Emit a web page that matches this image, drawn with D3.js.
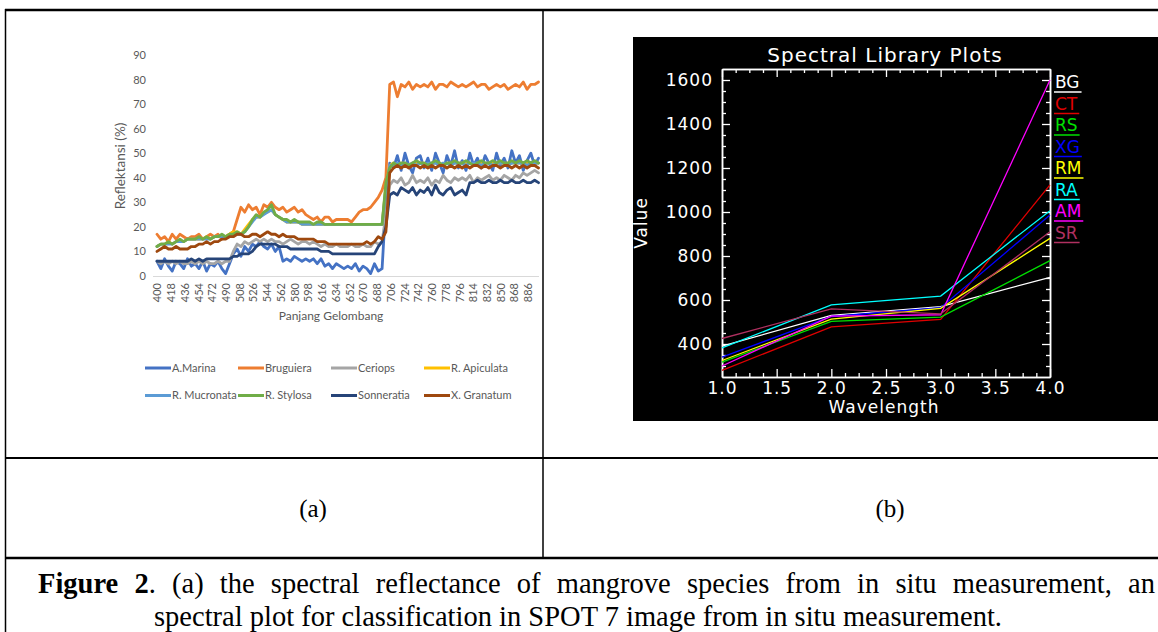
<!DOCTYPE html>
<html><head><meta charset="utf-8">
<script src="https://cdn.jsdelivr.net/npm/d3@7"></script>
<style>html,body{margin:0;padding:0;background:#fff;overflow:hidden}svg{display:block}</style>
</head><body>
<svg id="c" width="1158" height="632"></svg>
<script>
// ---------- Chart (a) data: reflectance (%) every 5 nm, 400..900 ----------
const waveStart = 400, waveEnd = 900, waveStep = 5;
const wavelengths = d3.range(waveStart, waveEnd + 1, waveStep);
const xTickLabelsA = [400,418,436,454,472,490,508,526,544,562,580,598,616,634,652,670,688,706,724,742,760,778,796,814,832,850,868,886];
const yTicksA = [0,10,20,30,40,50,60,70,80,90];

const aMarina = [6,3,7,4,2,6,5,3,7,4, 5,3,6,2,5,4,6,3,1,5, 9,11,8,12,10,13,12,14,12,11, 13,10,12,6,7,6,8,7,6,7,
 6,7,5,7,4,5,3,5,4,3, 4,3,5,2,4,3,1,5,2,3, 30,46,44,49,43,50,45,42,48,49, 44,48,43,50,46,42,49,45,51,44,
 47,43,50,45,48,44,49,46,43,50, 45,48,44,51,46,49,43,47,50,45, 48];
const bruguiera = [17,15,16,14,17,15,17,16,15,16, 16,17,15,16,17,16,17,15,16,17, 18,23,28,26,29,27,28,25,29,28, 30,28,27,28,26,27,28,26,27,25,
 24,23,24,22,24,24,22,23,23,23, 23,22,24,26,27,27,28,30,32,35, 40,78,79,73,78,77,79,76,78,77, 78,77,79,76,78,78,77,79,78,77,
 78,77,78,79,77,78,78,76,77,78, 77,78,76,77,78,77,79,76,78,78, 79];
const ceriops = [6,5,6,5,6,5,6,5,5,6, 5,6,5,6,5,5,6,5,6,6, 10,13,12,14,13,14,15,14,15,14, 15,14,14,13,14,15,14,13,14,14,
 13,14,13,12,13,12,12,13,12,12, 12,13,12,12,13,12,12,14,13,14, 25,37,39,38,40,37,38,41,38,39, 38,40,37,39,38,41,39,38,40,39,
 40,39,41,38,40,39,40,41,39,40, 39,41,40,39,41,40,42,41,42,43, 42];
const rApiculata = [12,13,13,14,13,14,14,14,15,15, 15,15,15,16,15,16,16,16,16,17, 18,18,17,19,21,23,24,24,26,26, 27,25,24,23,22,22,22,22,21,21,
 21,21,21,21,21,21,21,21,21,21, 21,21,21,21,21,21,21,21,21,21, 37,45,46,45,46,46,45,46,46,46, 46,45,46,46,46,45,46,46,46,46,
 46,46,46,45,46,46,46,46,46,46, 46,46,46,46,46,46,46,46,46,46, 46];
const rMucronata = [12,13,13,13,13,14,14,14,15,15, 15,15,15,15,15,16,16,16,16,16, 17,17,17,18,20,22,24,24,25,26, 27,25,24,23,22,22,22,22,21,21,
 21,21,21,21,21,21,21,21,21,21, 21,21,21,21,21,21,21,21,21,21, 36,45,45,46,45,46,45,46,45,46, 45,46,46,46,45,46,46,45,46,46,
 46,45,46,46,46,45,46,46,45,46, 46,46,45,46,46,46,46,45,46,46, 46];
const rStylosa = [12,13,13,14,13,14,15,14,15,15, 15,16,15,16,15,16,16,17,16,17, 17,18,17,18,20,23,25,24,26,27, 29,25,24,23,23,22,23,22,22,22,
 22,21,22,22,21,21,21,21,21,21, 21,21,21,21,21,21,21,21,21,21, 38,44,46,45,46,46,45,46,47,46, 46,45,46,47,46,45,46,46,47,46,
 46,47,46,45,46,47,46,46,47,46, 47,46,46,47,46,47,46,47,46,47, 46];
const sonneratia = [6,6,6,6,6,6,6,6,6,7, 6,7,6,7,7,7,7,7,7,7, 8,8,9,9,9,10,12,13,13,13, 13,13,12,12,12,11,11,11,11,11,
 11,11,11,10,10,10,9,9,9,9, 9,9,9,9,9,9,9,9,12,14, 20,33,34,33,36,35,34,36,33,35, 34,36,33,37,34,33,35,36,33,34,
 35,33,38,38,39,38,38,39,38,38, 39,38,38,39,38,38,39,38,38,39, 38];
const xGranatum = [10,11,12,11,11,12,11,11,11,12, 12,13,13,14,13,14,14,15,15,16, 16,17,17,16,16,17,17,16,17,18, 17,17,16,17,16,16,16,15,15,15,
 15,15,14,14,14,13,13,13,13,13, 13,13,13,13,13,14,13,14,16,15, 18,42,44,45,44,45,44,45,45,44, 45,44,45,44,45,45,44,45,44,45,
 44,45,44,45,45,44,45,44,45,45, 44,45,45,44,45,44,45,44,45,45, 44];

const seriesNamesA = ["A.Marina","Bruguiera","Ceriops","R. Apiculata","R. Mucronata","R. Stylosa","Sonneratia","X. Granatum"];
const seriesValuesA = [aMarina,bruguiera,ceriops,rApiculata,rMucronata,rStylosa,sonneratia,xGranatum];
const seriesColorsA = ["#4472C4","#ED7D31","#A5A5A5","#FFC000","#5B9BD5","#70AD47","#264478","#9E480E"];

// ---------- Chart (b) data ----------
const bandsB = [1,2,3,4];
const seriesNamesB = ["BG","CT","RS","XG","RM","RA","AM","SR"];
const bgVals = [390,530,570,703];
const ctVals = [280,478,512,1123];
const rsVals = [318,503,522,779];
const xgVals = [340,525,565,986];
const rmVals = [325,513,562,880];
const raVals = [382,578,618,1006];
const amVals = [300,527,533,1600];
const srVals = [425,560,537,910];
const seriesValuesB = [bgVals,ctVals,rsVals,xgVals,rmVals,raVals,amVals,srVals];
const seriesColorsB = ["#ffffff","#e00000","#00e000","#0000ff","#ffff00","#00ffff","#ff00ff","#b03060"];
const xTicksB = [1.0,1.5,2.0,2.5,3.0,3.5,4.0];
const yTicksB = [400,600,800,1000,1200,1400,1600];

const svg = d3.select("#c");

// ---------- Table frame ----------
const frame = svg.append("g").attr("stroke","#000");
frame.append("line").attr("x1",5).attr("x2",1158).attr("y1",10).attr("y2",10).attr("stroke-width",2.5);
frame.append("line").attr("x1",5.5).attr("x2",5.5).attr("y1",9).attr("y2",632).attr("stroke-width",1.5);
frame.append("line").attr("x1",543).attr("x2",543).attr("y1",9).attr("y2",558).attr("stroke-width",1.5);
frame.append("line").attr("x1",5).attr("x2",1158).attr("y1",458).attr("y2",458).attr("stroke-width",2);
frame.append("line").attr("x1",5).attr("x2",1158).attr("y1",558).attr("y2",558).attr("stroke-width",2.5);

const serif = "'Liberation Serif','Times New Roman',serif";
svg.append("text").attr("x",313).attr("y",517).attr("text-anchor","middle")
  .attr("font-family",serif).attr("font-size",25).text("(a)");
svg.append("text").attr("x",890).attr("y",517).attr("text-anchor","middle")
  .attr("font-family",serif).attr("font-size",25).text("(b)");

const capSize = 28.5;
const capRest = ". (a) the spectral reflectance of mangrove species from in situ measurement, an";
// justify line 1 like the reference (stretched word spacing), visible part up to the frame edge
const probe = svg.append("text").attr("font-family",serif).attr("font-size",capSize);
probe.append("tspan").attr("font-weight","bold").text("Figure 2");
probe.append("tspan").text(capRest);
const w0 = probe.node().getComputedTextLength();
probe.remove();
const nSpaces = ("Figure 2" + capRest).split(" ").length - 1;
const ws = Math.max(0, (1155 - 38 - w0) / nSpaces);
const cap1 = svg.append("text").attr("x",38).attr("y",593).attr("font-family",serif)
  .attr("font-size",capSize).attr("word-spacing",ws.toFixed(2));
cap1.append("tspan").attr("font-weight","bold").text("Figure 2");
cap1.append("tspan").text(capRest);
svg.append("text").attr("x",578).attr("y",626).attr("text-anchor","middle").attr("font-family",serif).attr("font-size",capSize)
  .text("spectral plot for classification in SPOT 7 image from in situ measurement.");

// ---------- Chart (a) ----------
const fontA = "Lato, 'Open Sans', sans-serif";
const gA = svg.append("g");
const xA = d3.scaleLinear().domain([waveStart, waveEnd]).range([157, 538.5]);
const yA = d3.scaleLinear().domain([0, 90]).range([276, 55]);

gA.append("line").attr("x1",153).attr("x2",539).attr("y1",yA(0)+0.5).attr("y2",yA(0)+0.5)
  .attr("stroke","#d9d9d9").attr("stroke-width",1);

const yAxisA = d3.axisLeft(yA).tickValues(yTicksA).tickSize(0).tickPadding(0);
gA.append("g").attr("transform","translate(146,0)").call(yAxisA)
  .call(g => g.select(".domain").remove())
  .call(g => g.selectAll("text").attr("fill","#595959").attr("font-family",fontA).attr("font-size",11));

const xAxisA = d3.axisBottom(xA).tickValues(xTickLabelsA).tickSize(0).tickPadding(0);
gA.append("g").attr("transform","translate(0,283)").call(xAxisA)
  .call(g => g.select(".domain").remove())
  .call(g => g.selectAll("text").attr("fill","#595959").attr("font-family",fontA).attr("font-size",11)
      .attr("transform","rotate(-90)").attr("text-anchor","end").attr("x",0).attr("y",0).attr("dy","0.35em"));

gA.append("text").attr("transform","translate(125,166) rotate(-90)").attr("text-anchor","middle")
  .attr("fill","#595959").attr("font-family",fontA).attr("font-size",13.5).text("Reflektansi (%)");
gA.append("text").attr("x",331).attr("y",320).attr("text-anchor","middle")
  .attr("fill","#595959").attr("font-family",fontA).attr("font-size",12).text("Panjang Gelombang");

const lineA = d3.line().x((d,i) => xA(wavelengths[i])).y(d => yA(d));
seriesValuesA.forEach((vals, k) => {
  gA.append("path").datum(vals).attr("d", lineA).attr("fill","none")
    .attr("stroke", seriesColorsA[k]).attr("stroke-width",2.8)
    .attr("stroke-linejoin","round").attr("stroke-linecap","round");
});

// legend (a)
const legA = gA.append("g");
seriesNamesA.forEach((name, k) => {
  const col = k % 4, row = Math.floor(k / 4);
  const lx = 145 + col * 93, ly = 368 + row * 27.5;
  legA.append("line").attr("x1",lx).attr("x2",lx+26).attr("y1",ly).attr("y2",ly)
    .attr("stroke",seriesColorsA[k]).attr("stroke-width",3);
  legA.append("text").attr("x",lx+27).attr("y",ly).attr("dy","0.35em")
    .attr("fill","#595959").attr("font-family",fontA).attr("font-size",11).text(name);
});

// ---------- Chart (b) ----------
const fontB = "'DejaVu Sans', sans-serif";
const gB = svg.append("g");
gB.append("rect").attr("x",633).attr("y",37).attr("width",540).attr("height",384).attr("fill","#000");
const xB = d3.scaleLinear().domain([1,4]).range([722,1050]);
const yB = d3.scaleLinear().domain([250,1650]).range([377,69]);

const xMinor = d3.range(1, 4.0001, 0.125).filter(v => Math.abs(v*2 - Math.round(v*2)) > 1e-6);
const yMinor = d3.range(300, 1650, 50).filter(v => v % 200 !== 0);

function styleAxis(g){
  g.select(".domain").attr("stroke","#fff").attr("stroke-width",1.5);
  g.selectAll(".tick line").attr("stroke","#fff").attr("stroke-width",1.3);
  g.selectAll("text").attr("fill","#fff").attr("font-family",fontB).attr("font-size",17).attr("letter-spacing",1);
}
// bottom
gB.append("g").attr("transform","translate(0,377)")
  .call(d3.axisBottom(xB).tickValues(xMinor).tickSize(-4).tickSizeOuter(0).tickFormat("")).call(styleAxis);
gB.append("g").attr("transform","translate(0,377)")
  .call(d3.axisBottom(xB).tickValues(xTicksB).tickSize(-8).tickSizeOuter(0).tickPadding(5).tickFormat(d3.format(".1f"))).call(styleAxis);
// top
gB.append("g").attr("transform","translate(0,69)")
  .call(d3.axisTop(xB).tickValues(xMinor).tickSize(-4).tickSizeOuter(0).tickFormat("")).call(styleAxis);
gB.append("g").attr("transform","translate(0,69)")
  .call(d3.axisTop(xB).tickValues(xTicksB).tickSize(-8).tickSizeOuter(0).tickFormat("")).call(styleAxis);
// left
gB.append("g").attr("transform","translate(722,0)")
  .call(d3.axisLeft(yB).tickValues(yMinor).tickSize(-4).tickSizeOuter(0).tickFormat("")).call(styleAxis);
gB.append("g").attr("transform","translate(722,0)")
  .call(d3.axisLeft(yB).tickValues(yTicksB).tickSize(-8).tickSizeOuter(0).tickPadding(9).tickFormat(d3.format("d"))).call(styleAxis);
// right
gB.append("g").attr("transform","translate(1050,0)")
  .call(d3.axisRight(yB).tickValues(yMinor).tickSize(-4).tickSizeOuter(0).tickFormat("")).call(styleAxis);
gB.append("g").attr("transform","translate(1050,0)")
  .call(d3.axisRight(yB).tickValues(yTicksB).tickSize(-8).tickSizeOuter(0).tickFormat("")).call(styleAxis);

gB.append("text").attr("x",885).attr("y",62).attr("text-anchor","middle").attr("fill","#fff")
  .attr("font-family",fontB).attr("font-size",20).attr("letter-spacing",1).text("Spectral Library Plots");
gB.append("text").attr("x",884).attr("y",413).attr("text-anchor","middle").attr("fill","#fff")
  .attr("font-family",fontB).attr("font-size",17).attr("letter-spacing",1).text("Wavelength");
gB.append("text").attr("transform","translate(647,223) rotate(-90)").attr("text-anchor","middle").attr("fill","#fff")
  .attr("font-family",fontB).attr("font-size",17).attr("letter-spacing",1).text("Value");

const lineB = d3.line().x((d,i) => xB(bandsB[i])).y(d => yB(d));
seriesValuesB.forEach((vals, k) => {
  gB.append("path").datum(vals).attr("d", lineB).attr("fill","none")
    .attr("stroke", seriesColorsB[k]).attr("stroke-width",1.3);
});

// legend (b)
seriesNamesB.forEach((name, k) => {
  const ly = 88 + k * 21.5;
  const t = gB.append("text").attr("x",1055).attr("y",ly).attr("fill",seriesColorsB[k])
    .attr("font-family",fontB).attr("font-size",17).text(name);
  const w = t.node().getComputedTextLength();
  gB.append("line").attr("x1",1054).attr("x2",1054 + w + 3).attr("y1",ly+4).attr("y2",ly+4)
    .attr("stroke",seriesColorsB[k]).attr("stroke-width",1.5);
});
</script>
</body></html>
